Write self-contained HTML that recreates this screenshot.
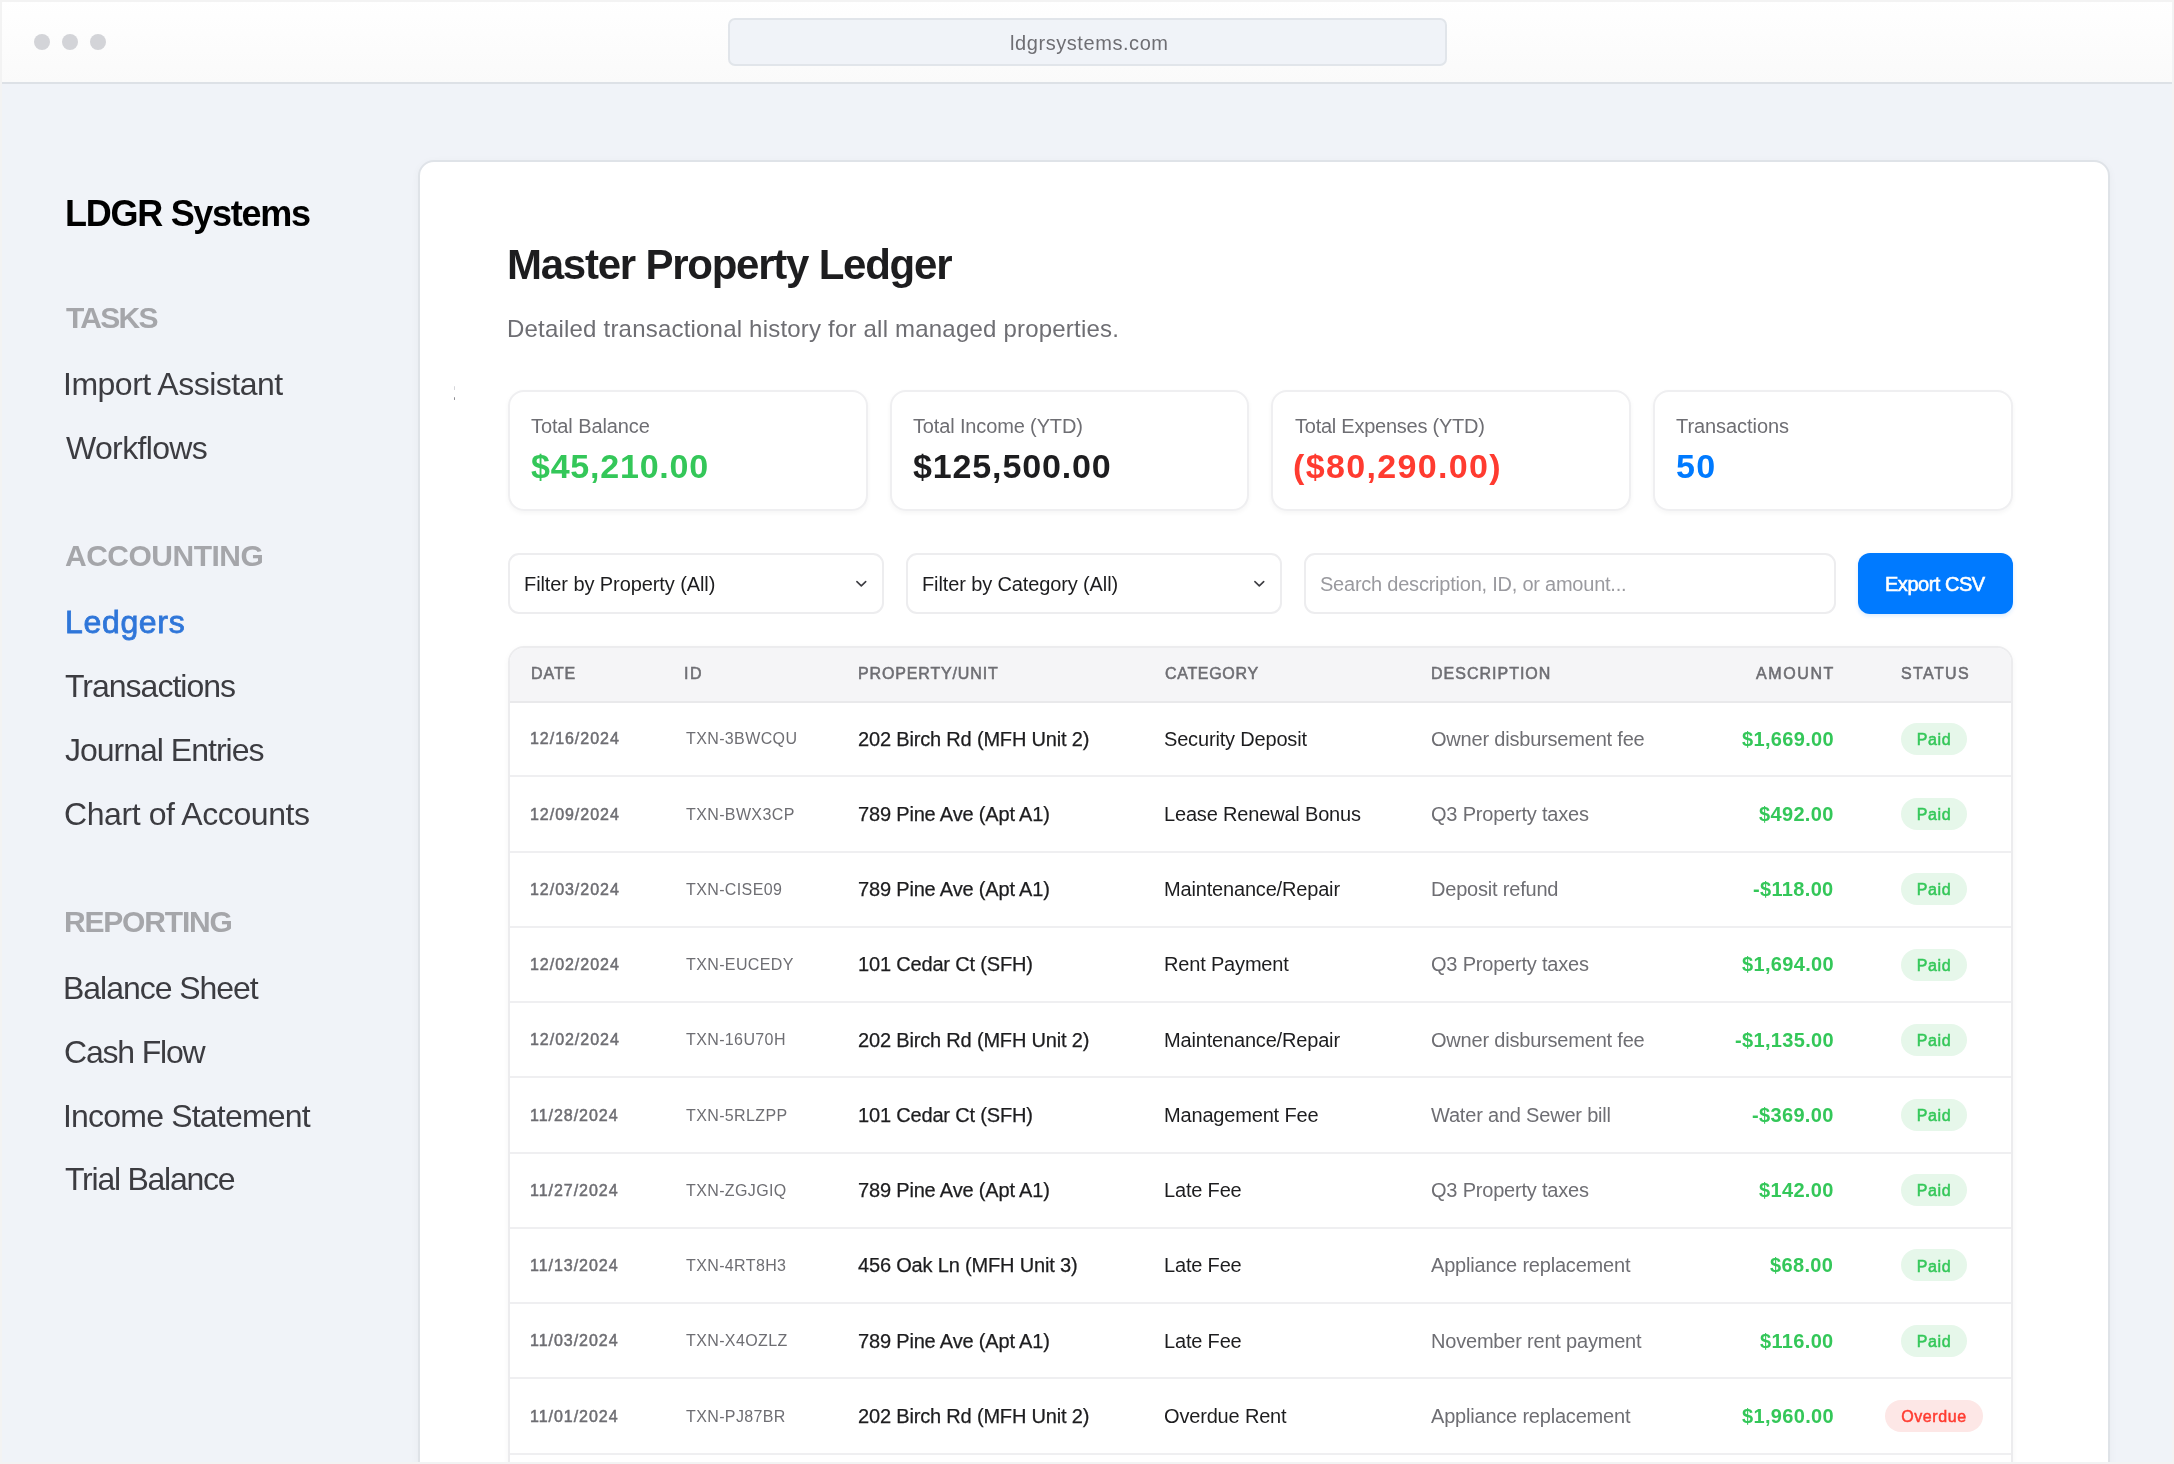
<!DOCTYPE html>
<html><head><meta charset="utf-8"><title>LDGR Systems</title>
<style>
html,body{margin:0;padding:0;}
body{width:2174px;height:1464px;overflow:hidden;position:relative;background:#f0f3f8;font-family:"Liberation Sans", sans-serif;}
.abs{position:absolute;}
.t{position:absolute;will-change:transform;}
</style></head><body>
<div class="abs" style="left:0;top:0;width:2174px;height:82px;background:linear-gradient(#ffffff,#fafafa);border-bottom:2px solid #dde1e6;"></div>
<div class="abs" style="left:34px;top:34px;width:16px;height:16px;border-radius:50%;background:#d3d4d8"></div>
<div class="abs" style="left:62px;top:34px;width:16px;height:16px;border-radius:50%;background:#d3d4d8"></div>
<div class="abs" style="left:90px;top:34px;width:16px;height:16px;border-radius:50%;background:#d3d4d8"></div>
<div class="abs" style="left:728px;top:18px;width:719px;height:48px;box-sizing:border-box;border:2px solid #e1e5ea;border-radius:7px;background:#f0f3f8"></div>
<div class="t" style="left:1010.00px;top:30.87px;font-size:20px;line-height:24.00px;color:#6e6e73;font-weight:400;letter-spacing:0.571px;white-space:nowrap;">ldgrsystems.com</div>
<div class="t" style="left:64.50px;top:191.93px;font-size:36px;line-height:43.20px;color:#000000;font-weight:700;letter-spacing:-1.273px;white-space:nowrap;">LDGR Systems</div>
<div class="t" style="left:66.00px;top:299.61px;font-size:30px;line-height:36.00px;color:#a5a6aa;font-weight:700;letter-spacing:-1.75px;white-space:nowrap;">TASKS</div>
<div class="t" style="left:63.40px;top:364.71px;font-size:32px;line-height:38.40px;color:#3c3c41;font-weight:400;letter-spacing:-0.493px;white-space:nowrap;">Import Assistant</div>
<div class="t" style="left:66.40px;top:428.71px;font-size:32px;line-height:38.40px;color:#3c3c41;font-weight:400;letter-spacing:-0.65px;white-space:nowrap;">Workflows</div>
<div class="t" style="left:65.00px;top:537.61px;font-size:30px;line-height:36.00px;color:#a5a6aa;font-weight:700;letter-spacing:-0.5px;white-space:nowrap;">ACCOUNTING</div>
<div class="t" style="left:65.00px;top:602.71px;font-size:32px;line-height:38.40px;color:#2f76d9;font-weight:400;letter-spacing:0.667px;white-space:nowrap;-webkit-text-stroke:0.8px #2f76d9;">Ledgers</div>
<div class="t" style="left:65.40px;top:666.71px;font-size:32px;line-height:38.40px;color:#3c3c41;font-weight:400;letter-spacing:-1.0px;white-space:nowrap;">Transactions</div>
<div class="t" style="left:65.40px;top:730.71px;font-size:32px;line-height:38.40px;color:#3c3c41;font-weight:400;letter-spacing:-1.0px;white-space:nowrap;">Journal Entries</div>
<div class="t" style="left:64.40px;top:794.71px;font-size:32px;line-height:38.40px;color:#3c3c41;font-weight:400;letter-spacing:-0.406px;white-space:nowrap;">Chart of Accounts</div>
<div class="t" style="left:64.00px;top:903.61px;font-size:30px;line-height:36.00px;color:#a5a6aa;font-weight:700;letter-spacing:-1.188px;white-space:nowrap;">REPORTING</div>
<div class="t" style="left:63.40px;top:968.71px;font-size:32px;line-height:38.40px;color:#3c3c41;font-weight:400;letter-spacing:-1.033px;white-space:nowrap;">Balance Sheet</div>
<div class="t" style="left:64.40px;top:1032.71px;font-size:32px;line-height:38.40px;color:#3c3c41;font-weight:400;letter-spacing:-1.188px;white-space:nowrap;">Cash Flow</div>
<div class="t" style="left:63.40px;top:1096.71px;font-size:32px;line-height:38.40px;color:#3c3c41;font-weight:400;letter-spacing:-0.8px;white-space:nowrap;">Income Statement</div>
<div class="t" style="left:65.40px;top:1159.71px;font-size:32px;line-height:38.40px;color:#3c3c41;font-weight:400;letter-spacing:-1.25px;white-space:nowrap;">Trial Balance</div>
<div class="abs" style="left:418px;top:159.5px;width:1692px;height:1400px;box-sizing:border-box;border:2px solid #dfe3e8;border-radius:16px;background:#ffffff;box-shadow:0 2px 8px rgba(0,0,0,0.04)"></div>
<div class="t" style="left:507.00px;top:239.75px;font-size:42px;line-height:50.40px;color:#1d1d1f;font-weight:700;letter-spacing:-1.238px;white-space:nowrap;">Master Property Ledger</div>
<div class="t" style="left:507.00px;top:314.58px;font-size:24px;line-height:28.80px;color:#6e6e73;font-weight:400;letter-spacing:0.202px;white-space:nowrap;">Detailed transactional history for all managed properties.</div>
<div class="abs" style="left:453.5px;top:386px;width:1.5px;height:4px;background:#d5d6da;border-radius:1px"></div>
<div class="abs" style="left:453.5px;top:397px;width:1.5px;height:3px;background:#8e8e93;border-radius:1px"></div>
<div class="abs" style="left:508.0px;top:390px;width:359.5px;height:121px;box-sizing:border-box;border:2px solid #efeff1;border-radius:16px;background:#fff;box-shadow:0 2px 5px rgba(0,0,0,0.045)"></div>
<div class="t" style="left:531.30px;top:414.07px;font-size:20px;line-height:24.00px;color:#6e6e73;font-weight:400;letter-spacing:-0.108px;white-space:nowrap;">Total Balance</div>
<div class="t" style="left:531.00px;top:446.42px;font-size:34px;line-height:40.80px;color:#34c759;font-weight:700;letter-spacing:0.778px;white-space:nowrap;">$45,210.00</div>
<div class="abs" style="left:889.7px;top:390px;width:359.5px;height:121px;box-sizing:border-box;border:2px solid #efeff1;border-radius:16px;background:#fff;box-shadow:0 2px 5px rgba(0,0,0,0.045)"></div>
<div class="t" style="left:913.00px;top:414.07px;font-size:20px;line-height:24.00px;color:#6e6e73;font-weight:400;letter-spacing:-0.141px;white-space:nowrap;">Total Income (YTD)</div>
<div class="t" style="left:912.70px;top:446.42px;font-size:34px;line-height:40.80px;color:#1d1d1f;font-weight:700;letter-spacing:0.86px;white-space:nowrap;">$125,500.00</div>
<div class="abs" style="left:1271.4px;top:390px;width:359.5px;height:121px;box-sizing:border-box;border:2px solid #efeff1;border-radius:16px;background:#fff;box-shadow:0 2px 5px rgba(0,0,0,0.045)"></div>
<div class="t" style="left:1294.70px;top:414.07px;font-size:20px;line-height:24.00px;color:#6e6e73;font-weight:400;letter-spacing:-0.242px;white-space:nowrap;">Total Expenses (YTD)</div>
<div class="t" style="left:1293.40px;top:446.42px;font-size:34px;line-height:40.80px;color:#ff3b30;font-weight:700;letter-spacing:1.345px;white-space:nowrap;">($80,290.00)</div>
<div class="abs" style="left:1653.1px;top:390px;width:359.5px;height:121px;box-sizing:border-box;border:2px solid #efeff1;border-radius:16px;background:#fff;box-shadow:0 2px 5px rgba(0,0,0,0.045)"></div>
<div class="t" style="left:1676.40px;top:414.07px;font-size:20px;line-height:24.00px;color:#6e6e73;font-weight:400;letter-spacing:-0.064px;white-space:nowrap;">Transactions</div>
<div class="t" style="left:1676.10px;top:446.42px;font-size:34px;line-height:40.80px;color:#007aff;font-weight:700;letter-spacing:1.4px;white-space:nowrap;">50</div>
<div class="abs" style="left:508px;top:553px;width:376px;height:60.5px;box-sizing:border-box;border:2px solid #ededef;border-radius:11px;background:#fff"></div>
<div class="t" style="left:524.20px;top:571.57px;font-size:20px;line-height:24.00px;color:#1d1d1f;font-weight:400;letter-spacing:-0.087px;white-space:nowrap;">Filter by Property (All)</div>
<svg class="abs" style="left:854px;top:579px" width="14" height="10" viewBox="0 0 14 10"><path d="M2.9 2.6 L7.3 6.9 L11.7 2.6" fill="none" stroke="#3d3d42" stroke-width="1.6" stroke-linecap="round" stroke-linejoin="round"/></svg>
<div class="abs" style="left:906px;top:553px;width:376px;height:60.5px;box-sizing:border-box;border:2px solid #ededef;border-radius:11px;background:#fff"></div>
<div class="t" style="left:922.20px;top:571.57px;font-size:20px;line-height:24.00px;color:#1d1d1f;font-weight:400;letter-spacing:-0.122px;white-space:nowrap;">Filter by Category (All)</div>
<svg class="abs" style="left:1252px;top:579px" width="14" height="10" viewBox="0 0 14 10"><path d="M2.9 2.6 L7.3 6.9 L11.7 2.6" fill="none" stroke="#3d3d42" stroke-width="1.6" stroke-linecap="round" stroke-linejoin="round"/></svg>
<div class="abs" style="left:1304px;top:553px;width:532px;height:60.5px;box-sizing:border-box;border:2px solid #ededef;border-radius:11px;background:#fff"></div>
<div class="t" style="left:1320.40px;top:571.57px;font-size:20px;line-height:24.00px;color:#9a9a9f;font-weight:400;letter-spacing:-0.229px;white-space:nowrap;">Search description, ID, or amount...</div>
<div class="abs" style="left:1858px;top:553px;width:154.5px;height:60.5px;border-radius:12px;background:#007aff;box-shadow:0 2px 4px rgba(0,122,255,0.15)"></div>
<div class="t" style="left:1885.00px;top:572.07px;font-size:20px;line-height:24.00px;color:#ffffff;font-weight:400;letter-spacing:-0.478px;white-space:nowrap;-webkit-text-stroke:0.6px #ffffff;">Export CSV</div>
<div class="abs" style="left:508px;top:646px;width:1504.5px;height:900px;box-sizing:border-box;border:2px solid #ececee;border-radius:16px;background:#fff;overflow:hidden;box-shadow:0 2px 6px rgba(0,0,0,0.04)"><div style="height:52.5px;background:#f5f5f7;border-bottom:2px solid #e9e9eb"></div></div>
<div class="t" style="left:530.50px;top:664.26px;font-size:16px;line-height:19.20px;color:#6e6e73;font-weight:400;letter-spacing:0.933px;white-space:nowrap;-webkit-text-stroke:0.55px #6e6e73;">DATE</div>
<div class="t" style="left:684.20px;top:664.26px;font-size:16px;line-height:19.20px;color:#6e6e73;font-weight:400;letter-spacing:1.5px;white-space:nowrap;-webkit-text-stroke:0.55px #6e6e73;">ID</div>
<div class="t" style="left:857.50px;top:664.26px;font-size:16px;line-height:19.20px;color:#6e6e73;font-weight:400;letter-spacing:0.85px;white-space:nowrap;-webkit-text-stroke:0.55px #6e6e73;">PROPERTY/UNIT</div>
<div class="t" style="left:1165.00px;top:664.26px;font-size:16px;line-height:19.20px;color:#6e6e73;font-weight:400;letter-spacing:0.686px;white-space:nowrap;-webkit-text-stroke:0.55px #6e6e73;">CATEGORY</div>
<div class="t" style="left:1431.00px;top:664.26px;font-size:16px;line-height:19.20px;color:#6e6e73;font-weight:400;letter-spacing:1.0px;white-space:nowrap;-webkit-text-stroke:0.55px #6e6e73;">DESCRIPTION</div>
<div class="t" style="left:1756.00px;top:664.26px;font-size:16px;line-height:19.20px;color:#6e6e73;font-weight:400;letter-spacing:1.6px;white-space:nowrap;-webkit-text-stroke:0.55px #6e6e73;">AMOUNT</div>
<div class="t" style="left:1900.70px;top:664.26px;font-size:16px;line-height:19.20px;color:#6e6e73;font-weight:400;letter-spacing:1.4px;white-space:nowrap;-webkit-text-stroke:0.55px #6e6e73;">STATUS</div>
<div class="abs" style="left:510px;top:775.40px;width:1500.5px;height:2px;background:#efeff1"></div>
<div class="t" style="left:530.00px;top:729.44px;font-size:16px;line-height:19.20px;color:#6e6e73;font-weight:400;letter-spacing:0.967px;white-space:nowrap;-webkit-text-stroke:0.5px #6e6e73;">12/16/2024</div>
<div class="t" style="left:685.60px;top:729.44px;font-size:16px;line-height:19.20px;color:#6e6e73;font-weight:400;letter-spacing:0.378px;white-space:nowrap;">TXN-3BWCQU</div>
<div class="t" style="left:857.60px;top:726.65px;font-size:20px;line-height:24.00px;color:#1d1d1f;font-weight:400;letter-spacing:-0.175px;white-space:nowrap;-webkit-text-stroke:0.25px #1d1d1f;">202 Birch Rd (MFH Unit 2)</div>
<div class="t" style="left:1163.90px;top:726.65px;font-size:20px;line-height:24.00px;color:#1d1d1f;font-weight:400;letter-spacing:-0.173px;white-space:nowrap;">Security Deposit</div>
<div class="t" style="left:1431.40px;top:726.65px;font-size:20px;line-height:24.00px;color:#6e6e73;font-weight:400;letter-spacing:-0.2px;white-space:nowrap;">Owner disbursement fee</div>
<div class="t" style="right:340.46px;top:726.65px;font-size:20px;line-height:24.00px;color:#34c759;font-weight:700;letter-spacing:0.338px;white-space:nowrap;">$1,669.00</div>
<div class="abs" style="left:1901.25px;top:722.78px;width:65.5px;height:32px;border-radius:16px;background:#e6f7ea"></div>
<div class="t" style="left:1534.30px;width:800px;text-align:center;top:729.94px;font-size:16px;line-height:19.20px;color:#34c759;font-weight:400;letter-spacing:0.6px;white-space:nowrap;-webkit-text-stroke:0.5px #34c759;">Paid</div>
<div class="abs" style="left:510px;top:850.64px;width:1500.5px;height:2px;background:#efeff1"></div>
<div class="t" style="left:530.00px;top:804.68px;font-size:16px;line-height:19.20px;color:#6e6e73;font-weight:400;letter-spacing:0.967px;white-space:nowrap;-webkit-text-stroke:0.5px #6e6e73;">12/09/2024</div>
<div class="t" style="left:685.60px;top:804.68px;font-size:16px;line-height:19.20px;color:#6e6e73;font-weight:400;letter-spacing:0.378px;white-space:nowrap;">TXN-BWX3CP</div>
<div class="t" style="left:857.60px;top:801.89px;font-size:20px;line-height:24.00px;color:#1d1d1f;font-weight:400;letter-spacing:-0.175px;white-space:nowrap;-webkit-text-stroke:0.25px #1d1d1f;">789 Pine Ave (Apt A1)</div>
<div class="t" style="left:1163.90px;top:801.89px;font-size:20px;line-height:24.00px;color:#1d1d1f;font-weight:400;letter-spacing:-0.173px;white-space:nowrap;">Lease Renewal Bonus</div>
<div class="t" style="left:1431.40px;top:801.89px;font-size:20px;line-height:24.00px;color:#6e6e73;font-weight:400;letter-spacing:-0.2px;white-space:nowrap;">Q3 Property taxes</div>
<div class="t" style="right:340.46px;top:801.89px;font-size:20px;line-height:24.00px;color:#34c759;font-weight:700;letter-spacing:0.338px;white-space:nowrap;">$492.00</div>
<div class="abs" style="left:1901.25px;top:798.02px;width:65.5px;height:32px;border-radius:16px;background:#e6f7ea"></div>
<div class="t" style="left:1534.30px;width:800px;text-align:center;top:805.18px;font-size:16px;line-height:19.20px;color:#34c759;font-weight:400;letter-spacing:0.6px;white-space:nowrap;-webkit-text-stroke:0.5px #34c759;">Paid</div>
<div class="abs" style="left:510px;top:925.88px;width:1500.5px;height:2px;background:#efeff1"></div>
<div class="t" style="left:530.00px;top:879.92px;font-size:16px;line-height:19.20px;color:#6e6e73;font-weight:400;letter-spacing:0.967px;white-space:nowrap;-webkit-text-stroke:0.5px #6e6e73;">12/03/2024</div>
<div class="t" style="left:685.60px;top:879.92px;font-size:16px;line-height:19.20px;color:#6e6e73;font-weight:400;letter-spacing:0.378px;white-space:nowrap;">TXN-CISE09</div>
<div class="t" style="left:857.60px;top:877.13px;font-size:20px;line-height:24.00px;color:#1d1d1f;font-weight:400;letter-spacing:-0.175px;white-space:nowrap;-webkit-text-stroke:0.25px #1d1d1f;">789 Pine Ave (Apt A1)</div>
<div class="t" style="left:1163.90px;top:877.13px;font-size:20px;line-height:24.00px;color:#1d1d1f;font-weight:400;letter-spacing:-0.173px;white-space:nowrap;">Maintenance/Repair</div>
<div class="t" style="left:1431.40px;top:877.13px;font-size:20px;line-height:24.00px;color:#6e6e73;font-weight:400;letter-spacing:-0.2px;white-space:nowrap;">Deposit refund</div>
<div class="t" style="right:340.46px;top:877.13px;font-size:20px;line-height:24.00px;color:#34c759;font-weight:700;letter-spacing:0.338px;white-space:nowrap;">-$118.00</div>
<div class="abs" style="left:1901.25px;top:873.26px;width:65.5px;height:32px;border-radius:16px;background:#e6f7ea"></div>
<div class="t" style="left:1534.30px;width:800px;text-align:center;top:880.42px;font-size:16px;line-height:19.20px;color:#34c759;font-weight:400;letter-spacing:0.6px;white-space:nowrap;-webkit-text-stroke:0.5px #34c759;">Paid</div>
<div class="abs" style="left:510px;top:1001.12px;width:1500.5px;height:2px;background:#efeff1"></div>
<div class="t" style="left:530.00px;top:955.16px;font-size:16px;line-height:19.20px;color:#6e6e73;font-weight:400;letter-spacing:0.967px;white-space:nowrap;-webkit-text-stroke:0.5px #6e6e73;">12/02/2024</div>
<div class="t" style="left:685.60px;top:955.16px;font-size:16px;line-height:19.20px;color:#6e6e73;font-weight:400;letter-spacing:0.378px;white-space:nowrap;">TXN-EUCEDY</div>
<div class="t" style="left:857.60px;top:952.37px;font-size:20px;line-height:24.00px;color:#1d1d1f;font-weight:400;letter-spacing:-0.175px;white-space:nowrap;-webkit-text-stroke:0.25px #1d1d1f;">101 Cedar Ct (SFH)</div>
<div class="t" style="left:1163.90px;top:952.37px;font-size:20px;line-height:24.00px;color:#1d1d1f;font-weight:400;letter-spacing:-0.173px;white-space:nowrap;">Rent Payment</div>
<div class="t" style="left:1431.40px;top:952.37px;font-size:20px;line-height:24.00px;color:#6e6e73;font-weight:400;letter-spacing:-0.2px;white-space:nowrap;">Q3 Property taxes</div>
<div class="t" style="right:340.46px;top:952.37px;font-size:20px;line-height:24.00px;color:#34c759;font-weight:700;letter-spacing:0.338px;white-space:nowrap;">$1,694.00</div>
<div class="abs" style="left:1901.25px;top:948.50px;width:65.5px;height:32px;border-radius:16px;background:#e6f7ea"></div>
<div class="t" style="left:1534.30px;width:800px;text-align:center;top:955.66px;font-size:16px;line-height:19.20px;color:#34c759;font-weight:400;letter-spacing:0.6px;white-space:nowrap;-webkit-text-stroke:0.5px #34c759;">Paid</div>
<div class="abs" style="left:510px;top:1076.36px;width:1500.5px;height:2px;background:#efeff1"></div>
<div class="t" style="left:530.00px;top:1030.40px;font-size:16px;line-height:19.20px;color:#6e6e73;font-weight:400;letter-spacing:0.967px;white-space:nowrap;-webkit-text-stroke:0.5px #6e6e73;">12/02/2024</div>
<div class="t" style="left:685.60px;top:1030.40px;font-size:16px;line-height:19.20px;color:#6e6e73;font-weight:400;letter-spacing:0.378px;white-space:nowrap;">TXN-16U70H</div>
<div class="t" style="left:857.60px;top:1027.61px;font-size:20px;line-height:24.00px;color:#1d1d1f;font-weight:400;letter-spacing:-0.175px;white-space:nowrap;-webkit-text-stroke:0.25px #1d1d1f;">202 Birch Rd (MFH Unit 2)</div>
<div class="t" style="left:1163.90px;top:1027.61px;font-size:20px;line-height:24.00px;color:#1d1d1f;font-weight:400;letter-spacing:-0.173px;white-space:nowrap;">Maintenance/Repair</div>
<div class="t" style="left:1431.40px;top:1027.61px;font-size:20px;line-height:24.00px;color:#6e6e73;font-weight:400;letter-spacing:-0.2px;white-space:nowrap;">Owner disbursement fee</div>
<div class="t" style="right:340.46px;top:1027.61px;font-size:20px;line-height:24.00px;color:#34c759;font-weight:700;letter-spacing:0.338px;white-space:nowrap;">-$1,135.00</div>
<div class="abs" style="left:1901.25px;top:1023.74px;width:65.5px;height:32px;border-radius:16px;background:#e6f7ea"></div>
<div class="t" style="left:1534.30px;width:800px;text-align:center;top:1030.90px;font-size:16px;line-height:19.20px;color:#34c759;font-weight:400;letter-spacing:0.6px;white-space:nowrap;-webkit-text-stroke:0.5px #34c759;">Paid</div>
<div class="abs" style="left:510px;top:1151.60px;width:1500.5px;height:2px;background:#efeff1"></div>
<div class="t" style="left:530.00px;top:1105.64px;font-size:16px;line-height:19.20px;color:#6e6e73;font-weight:400;letter-spacing:0.967px;white-space:nowrap;-webkit-text-stroke:0.5px #6e6e73;">11/28/2024</div>
<div class="t" style="left:685.60px;top:1105.64px;font-size:16px;line-height:19.20px;color:#6e6e73;font-weight:400;letter-spacing:0.378px;white-space:nowrap;">TXN-5RLZPP</div>
<div class="t" style="left:857.60px;top:1102.85px;font-size:20px;line-height:24.00px;color:#1d1d1f;font-weight:400;letter-spacing:-0.175px;white-space:nowrap;-webkit-text-stroke:0.25px #1d1d1f;">101 Cedar Ct (SFH)</div>
<div class="t" style="left:1163.90px;top:1102.85px;font-size:20px;line-height:24.00px;color:#1d1d1f;font-weight:400;letter-spacing:-0.173px;white-space:nowrap;">Management Fee</div>
<div class="t" style="left:1431.40px;top:1102.85px;font-size:20px;line-height:24.00px;color:#6e6e73;font-weight:400;letter-spacing:-0.2px;white-space:nowrap;">Water and Sewer bill</div>
<div class="t" style="right:340.46px;top:1102.85px;font-size:20px;line-height:24.00px;color:#34c759;font-weight:700;letter-spacing:0.338px;white-space:nowrap;">-$369.00</div>
<div class="abs" style="left:1901.25px;top:1098.98px;width:65.5px;height:32px;border-radius:16px;background:#e6f7ea"></div>
<div class="t" style="left:1534.30px;width:800px;text-align:center;top:1106.14px;font-size:16px;line-height:19.20px;color:#34c759;font-weight:400;letter-spacing:0.6px;white-space:nowrap;-webkit-text-stroke:0.5px #34c759;">Paid</div>
<div class="abs" style="left:510px;top:1226.84px;width:1500.5px;height:2px;background:#efeff1"></div>
<div class="t" style="left:530.00px;top:1180.88px;font-size:16px;line-height:19.20px;color:#6e6e73;font-weight:400;letter-spacing:0.967px;white-space:nowrap;-webkit-text-stroke:0.5px #6e6e73;">11/27/2024</div>
<div class="t" style="left:685.60px;top:1180.88px;font-size:16px;line-height:19.20px;color:#6e6e73;font-weight:400;letter-spacing:0.378px;white-space:nowrap;">TXN-ZGJGIQ</div>
<div class="t" style="left:857.60px;top:1178.09px;font-size:20px;line-height:24.00px;color:#1d1d1f;font-weight:400;letter-spacing:-0.175px;white-space:nowrap;-webkit-text-stroke:0.25px #1d1d1f;">789 Pine Ave (Apt A1)</div>
<div class="t" style="left:1163.90px;top:1178.09px;font-size:20px;line-height:24.00px;color:#1d1d1f;font-weight:400;letter-spacing:-0.173px;white-space:nowrap;">Late Fee</div>
<div class="t" style="left:1431.40px;top:1178.09px;font-size:20px;line-height:24.00px;color:#6e6e73;font-weight:400;letter-spacing:-0.2px;white-space:nowrap;">Q3 Property taxes</div>
<div class="t" style="right:340.46px;top:1178.09px;font-size:20px;line-height:24.00px;color:#34c759;font-weight:700;letter-spacing:0.338px;white-space:nowrap;">$142.00</div>
<div class="abs" style="left:1901.25px;top:1174.22px;width:65.5px;height:32px;border-radius:16px;background:#e6f7ea"></div>
<div class="t" style="left:1534.30px;width:800px;text-align:center;top:1181.38px;font-size:16px;line-height:19.20px;color:#34c759;font-weight:400;letter-spacing:0.6px;white-space:nowrap;-webkit-text-stroke:0.5px #34c759;">Paid</div>
<div class="abs" style="left:510px;top:1302.08px;width:1500.5px;height:2px;background:#efeff1"></div>
<div class="t" style="left:530.00px;top:1256.12px;font-size:16px;line-height:19.20px;color:#6e6e73;font-weight:400;letter-spacing:0.967px;white-space:nowrap;-webkit-text-stroke:0.5px #6e6e73;">11/13/2024</div>
<div class="t" style="left:685.60px;top:1256.12px;font-size:16px;line-height:19.20px;color:#6e6e73;font-weight:400;letter-spacing:0.378px;white-space:nowrap;">TXN-4RT8H3</div>
<div class="t" style="left:857.60px;top:1253.33px;font-size:20px;line-height:24.00px;color:#1d1d1f;font-weight:400;letter-spacing:-0.175px;white-space:nowrap;-webkit-text-stroke:0.25px #1d1d1f;">456 Oak Ln (MFH Unit 3)</div>
<div class="t" style="left:1163.90px;top:1253.33px;font-size:20px;line-height:24.00px;color:#1d1d1f;font-weight:400;letter-spacing:-0.173px;white-space:nowrap;">Late Fee</div>
<div class="t" style="left:1431.40px;top:1253.33px;font-size:20px;line-height:24.00px;color:#6e6e73;font-weight:400;letter-spacing:-0.2px;white-space:nowrap;">Appliance replacement</div>
<div class="t" style="right:340.46px;top:1253.33px;font-size:20px;line-height:24.00px;color:#34c759;font-weight:700;letter-spacing:0.338px;white-space:nowrap;">$68.00</div>
<div class="abs" style="left:1901.25px;top:1249.46px;width:65.5px;height:32px;border-radius:16px;background:#e6f7ea"></div>
<div class="t" style="left:1534.30px;width:800px;text-align:center;top:1256.62px;font-size:16px;line-height:19.20px;color:#34c759;font-weight:400;letter-spacing:0.6px;white-space:nowrap;-webkit-text-stroke:0.5px #34c759;">Paid</div>
<div class="abs" style="left:510px;top:1377.32px;width:1500.5px;height:2px;background:#efeff1"></div>
<div class="t" style="left:530.00px;top:1331.36px;font-size:16px;line-height:19.20px;color:#6e6e73;font-weight:400;letter-spacing:0.967px;white-space:nowrap;-webkit-text-stroke:0.5px #6e6e73;">11/03/2024</div>
<div class="t" style="left:685.60px;top:1331.36px;font-size:16px;line-height:19.20px;color:#6e6e73;font-weight:400;letter-spacing:0.378px;white-space:nowrap;">TXN-X4OZLZ</div>
<div class="t" style="left:857.60px;top:1328.57px;font-size:20px;line-height:24.00px;color:#1d1d1f;font-weight:400;letter-spacing:-0.175px;white-space:nowrap;-webkit-text-stroke:0.25px #1d1d1f;">789 Pine Ave (Apt A1)</div>
<div class="t" style="left:1163.90px;top:1328.57px;font-size:20px;line-height:24.00px;color:#1d1d1f;font-weight:400;letter-spacing:-0.173px;white-space:nowrap;">Late Fee</div>
<div class="t" style="left:1431.40px;top:1328.57px;font-size:20px;line-height:24.00px;color:#6e6e73;font-weight:400;letter-spacing:-0.2px;white-space:nowrap;">November rent payment</div>
<div class="t" style="right:340.46px;top:1328.57px;font-size:20px;line-height:24.00px;color:#34c759;font-weight:700;letter-spacing:0.338px;white-space:nowrap;">$116.00</div>
<div class="abs" style="left:1901.25px;top:1324.70px;width:65.5px;height:32px;border-radius:16px;background:#e6f7ea"></div>
<div class="t" style="left:1534.30px;width:800px;text-align:center;top:1331.86px;font-size:16px;line-height:19.20px;color:#34c759;font-weight:400;letter-spacing:0.6px;white-space:nowrap;-webkit-text-stroke:0.5px #34c759;">Paid</div>
<div class="abs" style="left:510px;top:1452.56px;width:1500.5px;height:2px;background:#efeff1"></div>
<div class="t" style="left:530.00px;top:1406.60px;font-size:16px;line-height:19.20px;color:#6e6e73;font-weight:400;letter-spacing:0.967px;white-space:nowrap;-webkit-text-stroke:0.5px #6e6e73;">11/01/2024</div>
<div class="t" style="left:685.60px;top:1406.60px;font-size:16px;line-height:19.20px;color:#6e6e73;font-weight:400;letter-spacing:0.378px;white-space:nowrap;">TXN-PJ87BR</div>
<div class="t" style="left:857.60px;top:1403.81px;font-size:20px;line-height:24.00px;color:#1d1d1f;font-weight:400;letter-spacing:-0.175px;white-space:nowrap;-webkit-text-stroke:0.25px #1d1d1f;">202 Birch Rd (MFH Unit 2)</div>
<div class="t" style="left:1163.90px;top:1403.81px;font-size:20px;line-height:24.00px;color:#1d1d1f;font-weight:400;letter-spacing:-0.173px;white-space:nowrap;">Overdue Rent</div>
<div class="t" style="left:1431.40px;top:1403.81px;font-size:20px;line-height:24.00px;color:#6e6e73;font-weight:400;letter-spacing:-0.2px;white-space:nowrap;">Appliance replacement</div>
<div class="t" style="right:340.46px;top:1403.81px;font-size:20px;line-height:24.00px;color:#34c759;font-weight:700;letter-spacing:0.338px;white-space:nowrap;">$1,960.00</div>
<div class="abs" style="left:1885.00px;top:1399.94px;width:98px;height:32px;border-radius:16px;background:#fde7e6"></div>
<div class="t" style="left:1534.31px;width:800px;text-align:center;top:1407.10px;font-size:16px;line-height:19.20px;color:#ff3b30;font-weight:400;letter-spacing:0.617px;white-space:nowrap;-webkit-text-stroke:0.5px #ff3b30;">Overdue</div>
<div class="abs" style="left:510px;top:1527.80px;width:1500.5px;height:2px;background:#efeff1"></div>
<div class="t" style="left:530.00px;top:1481.84px;font-size:16px;line-height:19.20px;color:#6e6e73;font-weight:400;letter-spacing:0.967px;white-space:nowrap;-webkit-text-stroke:0.5px #6e6e73;">10/28/2024</div>
<div class="t" style="left:685.60px;top:1481.84px;font-size:16px;line-height:19.20px;color:#6e6e73;font-weight:400;letter-spacing:0.378px;white-space:nowrap;">TXN-K2M9QA</div>
<div class="t" style="left:857.60px;top:1479.05px;font-size:20px;line-height:24.00px;color:#1d1d1f;font-weight:400;letter-spacing:-0.175px;white-space:nowrap;-webkit-text-stroke:0.25px #1d1d1f;">456 Oak Ln (MFH Unit 3)</div>
<div class="t" style="left:1163.90px;top:1479.05px;font-size:20px;line-height:24.00px;color:#1d1d1f;font-weight:400;letter-spacing:-0.173px;white-space:nowrap;">Rent Payment</div>
<div class="t" style="left:1431.40px;top:1479.05px;font-size:20px;line-height:24.00px;color:#6e6e73;font-weight:400;letter-spacing:-0.2px;white-space:nowrap;">Owner disbursement fee</div>
<div class="t" style="right:340.46px;top:1479.05px;font-size:20px;line-height:24.00px;color:#34c759;font-weight:700;letter-spacing:0.338px;white-space:nowrap;">$1,450.00</div>
<div class="abs" style="left:1901.25px;top:1475.18px;width:65.5px;height:32px;border-radius:16px;background:#e6f7ea"></div>
<div class="t" style="left:1534.30px;width:800px;text-align:center;top:1482.34px;font-size:16px;line-height:19.20px;color:#34c759;font-weight:400;letter-spacing:0.6px;white-space:nowrap;-webkit-text-stroke:0.5px #34c759;">Paid</div>
<div class="abs" style="left:0;top:0;width:2174px;height:1464px;box-sizing:border-box;border:2px solid #f3f3f3;z-index:50;pointer-events:none"></div>
</body></html>
